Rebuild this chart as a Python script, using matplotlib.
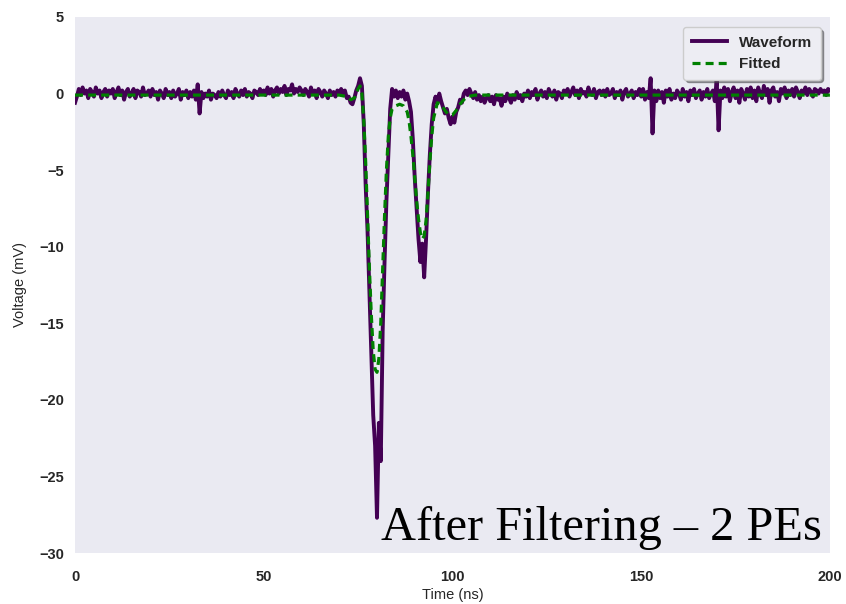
import numpy as np
import matplotlib
matplotlib.use("Agg")
import matplotlib.pyplot as plt

time_ns = np.arange(0, 200.5, 0.5)
waveform = [
    -0.6, -0.2, 0.3, -0.1, 0.4, 0.0, 0.2, -0.3, 0.3, 0.1, -0.2, 0.4, 0.0, 0.2, -0.3, 0.1, 0.3, -0.2, 0.2, 0.0,
    0.3, -0.3, 0.1, 0.4, -0.1, 0.2, -0.4, 0.1, 0.3, -0.2, 0.0, 0.3, -0.3, 0.2, 0.1, -0.2, 0.4, -0.1, 0.0, 0.2,
    -0.2, 0.3, -0.1, 0.1, -0.4, 0.2, 0.0, -0.3, 0.3, -0.1, 0.1, -0.3, 0.2, -0.2, 0.0, 0.3, -0.4, 0.1, -0.1, 0.2,
    -0.3, 0.1, -0.2, 0.2, -0.4, 0.6, -1.3, 0.1, -0.3, 0.0, -0.2, 0.2, -0.4, 0.0, -0.1, -0.3, 0.1, -0.2, 0.2, -0.1,
    -0.3, 0.2, -0.1, 0.1, -0.3, 0.3, 0.0, -0.2, 0.2, -0.1, 0.3, -0.2, 0.1, 0.0, -0.3, 0.2, 0.1, -0.1, 0.3, 0.0,
    0.2, -0.1, 0.4, 0.0, 0.3, -0.2, 0.2, 0.4, 0.0, 0.3, 0.1, 0.5, -0.1, 0.3, 0.2, 0.6, 0.0, 0.3, 0.1, 0.4,
    0.2, -0.1, 0.3, 0.1, -0.2, 0.4, 0.0, 0.2, -0.3, 0.3, 0.1, -0.2, 0.2, 0.0, -0.3, 0.2, -0.1, 0.1, -0.2, 0.2,
    0.0, 0.3, -0.1, 0.2, -0.3, -0.2, -0.6, -0.7, -0.3, 0.2, 0.5, 1.0, 0.5, -2.0, -6.0, -9.0, -13.0, -17.0, -21.0, -23.0,
    -27.7, -21.5, -24.0, -15.5, -11.0, -7.0, -4.0, -1.0, 0.3, -0.2, 0.2, -0.3, 0.1, -0.2, 0.2, -0.4, 0.0, -0.5, -1.2, -3.0,
    -5.5, -7.5, -9.5, -11.0, -9.8, -12.0, -9.5, -6.5, -4.0, -2.0, -0.7, -0.2, -0.6, 0.0, -0.5, -0.9, -1.3, -1.0, -1.6, -2.0,
    -1.5, -1.9, -1.2, -0.9, -0.4, -0.6, 0.0, 0.2, -0.1, 0.3, 0.0, -0.3, 0.1, -0.4, -0.1, -0.5, -0.2, -0.6, -0.3, -0.1,
    -0.5, -0.2, -0.7, -0.1, -0.4, -0.3, -0.8, -0.2, -0.5, 0.0, -0.3, -0.6, -0.1, -0.4, 0.1, -0.3, -0.1, -0.5, 0.0, -0.2,
    0.2, -0.3, 0.1, -0.1, 0.3, -0.4, 0.0, 0.2, -0.2, 0.1, -0.3, 0.3, 0.0, -0.2, 0.2, -0.4, 0.1, 0.0, -0.3, 0.2,
    0.0, 0.3, -0.2, 0.1, 0.4, -0.1, 0.2, -0.3, 0.3, 0.0, 0.1, -0.2, 0.4, 0.0, -0.1, 0.3, -0.3, 0.1, 0.2, -0.1,
    0.2, -0.2, 0.3, -0.1, 0.0, 0.3, -0.3, 0.1, -0.1, 0.2, -0.4, 0.1, 0.3, -0.2, 0.0, 0.2, -0.3, 0.1, -0.1, 0.3,
    -0.2, 0.3, -0.4, 0.1, -0.3, 1.0, -2.6, 0.2, -0.5, 0.2, -0.3, 0.1, -0.6, 0.2, -0.2, 0.3, -0.4, 0.0, -0.3, 0.2,
    0.0, -0.4, 0.3, -0.2, 0.1, -0.5, 0.2, -0.1, 0.3, -0.3, 0.0, 0.2, -0.4, 0.1, -0.2, 0.3, -0.3, 0.0, 0.2, -0.5,
    0.9, -2.4, 0.2, -0.3, 0.4, -0.2, 0.3, -0.5, 0.1, 0.4, -0.3, 0.2, -0.6, 0.3, 0.0, -0.4, 0.3, -0.2, 0.4, -0.3,
    0.2, -0.5, 0.4, 0.0, -0.3, 0.5, -0.1, 0.3, -0.6, 0.2, 0.4, -0.2, 0.1, -0.5, 0.3, 0.0, 0.4, -0.3, 0.2, -0.1,
    0.3, -0.2, 0.4, 0.1, -0.3, 0.2, 0.0, 0.4, -0.1, 0.3, 0.1, -0.2, 0.3, 0.2, 0.0, 0.3, 0.1, 0.2, -0.1, 0.3,
    0.2,
]

# fitted curve (two photo-electron pulses)
fit_t = [0, 70, 72, 73, 74, 75, 75.5, 76, 76.5, 77, 77.5, 78, 78.5, 79, 79.5, 80, 80.5, 81, 81.5, 82,
         82.5, 83, 83.5, 84, 85, 86, 87, 88, 88.5, 89, 89.5, 90, 90.5, 91, 91.5, 92, 92.5, 93, 93.5, 94,
         94.5, 95, 96, 97, 98, 99, 100, 101, 102, 103, 104, 106, 110, 200]
fit_v = [-0.1, -0.1, -0.2, -0.4, -0.3, 0.3, 0.5, 0.0, -1.8, -4.5, -8.0, -11.5, -14.5, -16.8, -18.0, -18.2, -17.3, -15.0, -11.5, -8.0,
         -5.0, -2.8, -1.6, -1.0, -0.8, -0.7, -0.8, -1.2, -1.8, -2.8, -4.0, -5.5, -7.0, -8.2, -9.1, -9.5, -9.3, -8.3, -6.5, -4.5,
         -2.8, -1.6, -0.6, -0.7, -1.1, -1.4, -1.4, -1.1, -0.7, -0.4, -0.2, -0.1, -0.1, -0.1]

x_ticks = [0, 50, 100, 150, 200]
y_ticks = [-30, -25, -20, -15, -10, -5, 0, 5]

plt.rcParams['font.family'] = ['Liberation Sans', 'DejaVu Sans']

fig = plt.figure(figsize=(8.46, 6.04), dpi=100)
ax = fig.add_axes([0.0887, 0.0844, 0.8923, 0.8875])
ax.set_facecolor('#EAEAF2')
for s in ax.spines.values():
    s.set_visible(False)

ax.plot(time_ns, waveform, color='#440154', linewidth=2.8, label='Waveform')
ax.plot(fit_t, fit_v, color='#008000', linewidth=2.3, dashes=(2.5, 1.6), label='Fitted')

ax.set_xlim(0, 200)
ax.set_ylim(-30, 5)
ax.set_xticks(x_ticks)
ax.set_yticks(y_ticks)
ax.tick_params(length=0, labelsize=10.5)
ax.tick_params(axis='y', pad=8)
ax.tick_params(axis='x', pad=12)
for lab in ax.get_xticklabels() + ax.get_yticklabels():
    lab.set_fontweight('bold')
    lab.set_color('#262626')
ax.set_xlabel('Time (ns)', fontsize=10.5, color='#262626', labelpad=3)
ax.set_ylabel('Voltage (mV)', fontsize=10.5, color='#262626', labelpad=9)

leg = ax.legend(loc='upper right', frameon=True, shadow=True, fancybox=True,
                prop={'weight': 'bold', 'size': 11}, borderpad=0.55,
                handlelength=2.3, bbox_to_anchor=(0.998, 0.995))
leg.get_frame().set_facecolor('#EDEDF3')
leg.get_frame().set_edgecolor('#cccccc')
for t in leg.get_texts():
    t.set_color('#262626')

ax.text(0.989, 0.024, 'After Filtering \u2013 2 PEs', transform=ax.transAxes,
        ha='right', va='baseline', fontsize=34.8, family='Liberation Serif',
        color='black')

fig.savefig('out.png', dpi=100, facecolor='white')
